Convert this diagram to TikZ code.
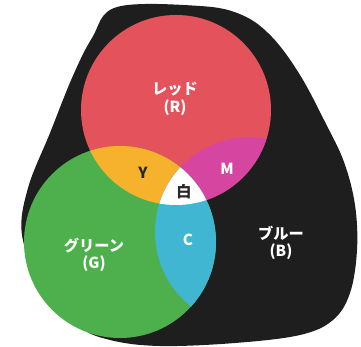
\documentclass[tikz,border=0pt]{standalone}
\usepackage{fontspec}
\newfontfamily\jpfont{Noto Sans CJK JP}
\usetikzlibrary{positioning}
\definecolor{rgbred}{RGB}{228,82,92}
\definecolor{rgbgreen}{RGB}{78,176,76}
\definecolor{rgbblue}{RGB}{30,30,30}
\definecolor{rgbyellow}{RGB}{246,178,44}
\definecolor{rgbmagenta}{RGB}{214,70,160}
\definecolor{rgbcyan}{RGB}{64,182,210}
\definecolor{rgbtext}{RGB}{40,40,40}

\begin{document}
\begin{tikzpicture}[
  x=0.3mm, y=-0.3mm,
  lab/.style={font=\jpfont\bfseries\fontsize{13}{15}\selectfont, text=white, align=center, inner sep=1pt},
  mix/.style={font=\jpfont\bfseries\fontsize{13}{15}\selectfont, inner sep=1pt}
]
  \useasboundingbox[fill=white] (0,0) rectangle (361,347);

  % black card behind the circles
  \fill[rgbblue] plot[smooth cycle, tension=0.6] coordinates {
    (117,7) (200,6) (242,15) (272,37) (300,75) (325,122) (344,162)
    (355,205) (357,250) (350,293) (333,320) (300,335) (235,343)
    (160,346) (110,340) (77,325) (42,285) (22,235) (28,188)
    (50,133) (72,78) (92,38)};

  % circles
  \def\red{(176,110) circle[radius=95]}
  \def\green{(120,242) circle[radius=96]}
  \def\blue{(250,232) circle[radius=95]}
  \fill[rgbblue] \blue;
  \fill[rgbred] \red;
  \fill[rgbgreen] \green;

  % mixtures
  \begin{scope}
    \clip \red;
    \fill[rgbyellow] \green;
    \fill[rgbmagenta] \blue;
  \end{scope}
  \begin{scope}
    \clip \green;
    \fill[rgbcyan] \blue;
  \end{scope}
  \begin{scope}
    \clip \red;
    \clip \green;
    \fill[white] \blue;
  \end{scope}

  % labels
  \node[lab] (r) at (175,99) {レッド\\(R)};
  \node[lab] (g) at (94,255) {グリーン\\(G)};
  \node[lab] (b) at (281,243) {ブルー\\(B)};
  \node[mix, text=rgbtext] (y) at (143,173) {Y};
  \node[mix, text=white] (m) at (227,169) {M};
  \node[mix, text=white] (c) at (188,240) {C};
  \node[mix, text=rgbtext] (w) at (184,192) {白};
\end{tikzpicture}
\end{document}
